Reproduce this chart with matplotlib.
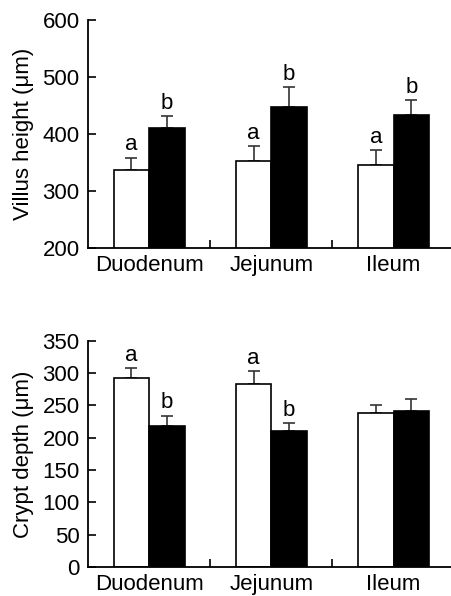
import matplotlib
matplotlib.use('Agg')
import matplotlib.pyplot as plt
import numpy as np

# Values
segments = ['Duodenum', 'Jejunum', 'Ileum']

villus_control = [337, 353, 346]
villus_control_err = [21, 26, 26]
villus_treated = [410, 448, 433]
villus_treated_err = [21, 34, 26]
villus_labels_control = ['a', 'a', 'a']
villus_labels_treated = ['b', 'b', 'b']

crypt_control = [293, 283, 238]
crypt_control_err = [14, 20, 13]
crypt_treated = [218, 210, 241]
crypt_treated_err = [16, 12, 19]
crypt_labels_control = ['a', 'a', '']
crypt_labels_treated = ['b', 'b', '']

plt.rcParams['font.family'] = ['Liberation Sans', 'DejaVu Sans']
FS = 16


def bar_panel(ax, ctrl, ctrl_err, trt, trt_err, lab_c, lab_t, ylim, yticks, ylabel):
    x = np.arange(len(segments))
    w = 0.29
    ax.bar(x - w / 2, ctrl, w, color='white', edgecolor='black', linewidth=1.2,
           zorder=2)
    ax.bar(x + w / 2, trt, w, color='black', edgecolor='black', linewidth=1.2,
           zorder=2)
    ax.errorbar(x - w / 2, ctrl, yerr=[np.zeros(3), ctrl_err], fmt='none',
                ecolor='#333333', elinewidth=1.2, capsize=4, capthick=1.2, zorder=1)
    ax.errorbar(x + w / 2, trt, yerr=[np.zeros(3), trt_err], fmt='none',
                ecolor='#333333', elinewidth=1.2, capsize=4, capthick=1.2, zorder=1)
    span = ylim[1] - ylim[0]
    for i in range(len(segments)):
        if lab_c[i]:
            ax.text(x[i] - w / 2, ctrl[i] + ctrl_err[i] + span * 0.01, lab_c[i],
                    ha='center', va='bottom', fontsize=FS)
        if lab_t[i]:
            ax.text(x[i] + w / 2, trt[i] + trt_err[i] + span * 0.01, lab_t[i],
                    ha='center', va='bottom', fontsize=FS)
    ax.set_xlim(-0.5, 2.47)
    ax.set_ylim(*ylim)
    ax.set_yticks(yticks)
    ax.set_xticks([0.5, 1.5])
    ax.set_xticklabels([])
    ax.tick_params(axis='x', direction='in', length=6, width=1.2)
    ax.tick_params(axis='y', direction='in', length=6, width=1.2, labelsize=FS, pad=6)
    for i, s in enumerate(segments):
        ax.text(x[i], ylim[0] - span * 0.03, s, ha='center', va='top', fontsize=FS)
    ax.spines['top'].set_visible(False)
    ax.spines['right'].set_visible(False)
    ax.spines['left'].set_linewidth(1.3)
    ax.spines['bottom'].set_linewidth(1.3)
    ax.set_ylabel(ylabel, fontsize=FS, labelpad=6)


fig = plt.figure(figsize=(4.51, 5.96), dpi=100)
ax1 = fig.add_axes([0.195, 0.5844, 0.805, 0.382])
ax2 = fig.add_axes([0.195, 0.0487, 0.805, 0.3797])

bar_panel(ax1, villus_control, villus_control_err, villus_treated, villus_treated_err,
          villus_labels_control, villus_labels_treated,
          (200, 600), [200, 300, 400, 500, 600], 'Villus height (\u03bcm)')
bar_panel(ax2, crypt_control, crypt_control_err, crypt_treated, crypt_treated_err,
          crypt_labels_control, crypt_labels_treated,
          (0, 350), list(range(0, 351, 50)), 'Crypt depth (\u03bcm)')

fig.savefig('out.png', dpi=100)
